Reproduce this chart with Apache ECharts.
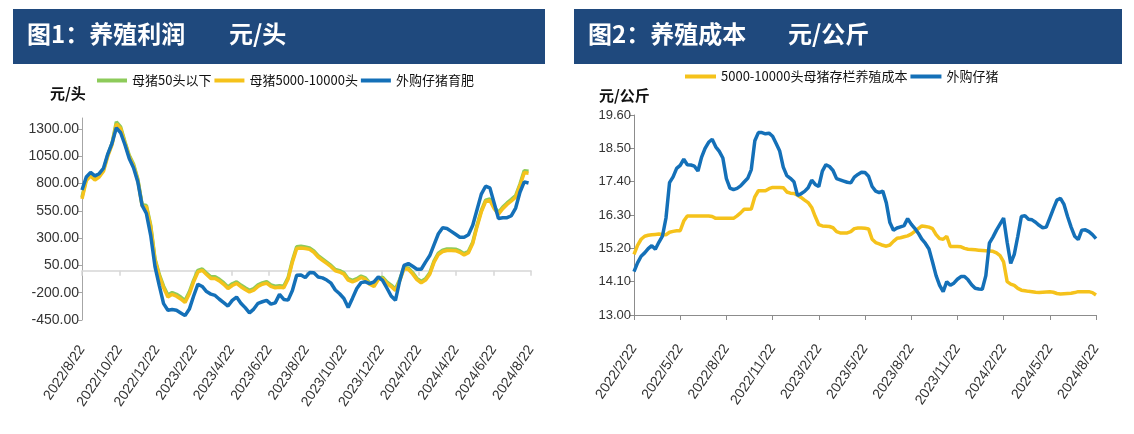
<!DOCTYPE html>
<html><head><meta charset="utf-8">
<script src="https://cdn.jsdelivr.net/npm/echarts@6/dist/echarts.min.js"></script>
<style>html,body{margin:0;padding:0;background:#fff}#c{width:1134px;height:434px}</style>
</head><body><div id="c"></div>
<script>
// ---------- data ----------
// Chart 1: weekly profit (元/头), first week 2022/8/22
const leftTickLabels = ['2022/8/22','2022/10/22','2022/12/22','2023/2/22','2023/4/22','2023/6/22','2023/8/22','2023/10/22','2023/12/22','2024/2/22','2024/4/22','2024/6/22','2024/8/22'];
const leftSeriesNames = ['母猪50头以下','母猪5000-10000头','外购仔猪育肥'];
const profitSmall = [675,840,885,845,872,925,1062,1170,1365,1318,
 1182,1058,978,842,607,598,418,112,-32,-140,
 -222,-198,-215,-240,-272,-192,-85,5,18,-20,
 -55,-55,-78,-108,-147,-118,-100,-130,-155,-178,
 -162,-128,-110,-98,-128,-140,-136,-140,-62,95,
 220,225,218,210,183,140,110,80,50,12,
 2,-18,-72,-88,-72,-48,-64,-110,-130,-68,
 -58,-102,-130,-166,-78,32,27,-16,-68,-97,
 -72,-18,92,162,190,200,200,198,183,158,
 180,263,418,553,648,658,583,535,585,622,
 655,690,795,918,912];
const profitLarge = [660,827,870,832,860,912,1050,1157,1345,1305,
 1170,1047,965,830,595,586,405,100,-45,-155,
 -240,-215,-232,-257,-290,-210,-100,-10,5,-33,
 -69,-69,-92,-123,-162,-134,-115,-145,-170,-193,
 -177,-142,-123,-112,-142,-155,-150,-154,-75,80,
 204,210,204,197,170,127,97,68,38,0,
 -10,-30,-85,-100,-85,-60,-77,-123,-143,-80,
 -70,-115,-143,-180,-90,20,15,-28,-80,-110,
 -85,-30,80,150,177,187,187,185,170,145,
 167,250,405,540,635,645,570,520,570,608,
 640,675,780,900,895];
const profitPiglet = [740,860,902,870,890,940,1070,1170,1310,1265,
 1155,1030,945,815,600,525,325,40,-135,-300,
 -360,-353,-360,-385,-410,-350,-230,-122,-143,-190,
 -213,-225,-260,-290,-322,-270,-240,-296,-337,-385,
 -350,-297,-283,-270,-305,-293,-215,-262,-268,-180,
 -40,-37,-62,-15,-18,-56,-64,-84,-113,-175,
 -210,-253,-335,-250,-161,-108,-100,-117,-100,-55,
 -87,-157,-230,-270,-90,50,67,42,15,15,
 80,140,240,340,394,388,362,335,308,308,
 330,417,560,703,775,760,620,480,487,487,
 505,575,720,815,805];

// Chart 2: weekly cost (元/公斤), first week 2022/2/22
const rightTickLabels = ['2022/2/22','2022/5/22','2022/8/22','2022/11/22','2023/2/22','2023/5/22','2023/8/22','2023/11/22','2024/2/22','2024/5/22','2024/8/22'];
const rightSeriesNames = ['5000-10000头母猪存栏养殖成本','外购仔猪'];
const costSow = [15.00,15.30,15.50,15.60,15.63,15.65,15.66,15.67,15.66,15.65,
 15.73,15.76,15.78,15.78,16.10,16.27,16.27,16.27,16.27,16.27,
 16.27,16.27,16.25,16.19,16.19,16.19,16.19,16.19,16.19,16.27,
 16.37,16.49,16.49,16.50,16.90,17.10,17.10,17.10,17.17,17.21,
 17.21,17.21,17.20,17.06,17.02,17.01,16.95,16.88,16.79,16.71,
 16.55,16.25,15.98,15.94,15.93,15.92,15.88,15.75,15.71,15.71,
 15.71,15.75,15.85,15.87,15.87,15.86,15.84,15.50,15.39,15.35,
 15.30,15.27,15.31,15.43,15.53,15.55,15.58,15.61,15.67,15.76,
 15.85,15.94,15.92,15.90,15.85,15.65,15.52,15.50,15.60,15.26,
 15.26,15.26,15.25,15.20,15.17,15.16,15.15,15.14,15.13,15.12,
 15.11,15.10,15.05,14.96,14.75,14.10,14.02,13.98,13.88,13.82,
 13.80,13.78,13.77,13.75,13.74,13.75,13.76,13.77,13.75,13.71,
 13.69,13.70,13.71,13.72,13.74,13.77,13.77,13.77,13.77,13.74,
 13.66];
const costPiglet = [14.43,14.72,14.94,15.05,15.19,15.29,15.17,15.40,15.60,16.20,
 17.37,17.56,17.84,17.94,18.14,17.96,17.95,17.91,17.75,18.20,
 18.50,18.70,18.80,18.55,18.40,18.18,17.50,17.19,17.14,17.18,
 17.26,17.39,17.51,17.80,18.75,19.02,19.02,18.98,19.00,18.90,
 18.66,18.41,17.88,17.60,17.51,17.40,16.95,17.00,17.08,17.20,
 17.45,17.31,17.24,17.75,17.96,17.90,17.77,17.50,17.46,17.42,
 17.38,17.36,17.55,17.64,17.71,17.70,17.58,17.24,17.09,17.04,
 17.09,16.70,16.05,15.80,15.87,15.91,15.95,16.18,16.00,15.86,
 15.70,15.50,15.36,15.18,14.75,14.30,13.98,13.77,14.10,13.98,
 14.05,14.18,14.27,14.27,14.16,14.00,13.88,13.86,13.85,14.30,
 15.37,15.57,15.80,16.00,16.20,15.40,14.70,15.00,15.60,16.25,
 16.28,16.16,16.14,16.06,15.96,15.88,15.90,16.20,16.50,16.79,
 16.85,16.65,16.25,15.90,15.60,15.49,15.80,15.81,15.75,15.65,
 15.52];

// ---------- chart ----------
const weekly = arr => arr.map((v, i) => [i * 7, v]);
const GREEN = '#8DCB5A', YELLOW = '#F5C21B', BLUE = '#1470B8';
const LEFT_STEP = 61, LEFT_MAX = 61 * 12;   // days, 2-month ticks
const RIGHT_STEP = 91, RIGHT_MAX = 91 * 10; // days, 3-month ticks
const numFont = 'Liberation Sans, Arial, sans-serif';
const cjkFont = 'Noto Sans CJK SC, sans-serif';

const chart = echarts.init(document.getElementById('c'), null, {renderer: 'canvas'});
const lineSeries = (name, data, color, xi, yi) => ({
  name, type: 'line', data: weekly(data), xAxisIndex: xi, yAxisIndex: yi,
  showSymbol: false, symbol: 'none', smooth: false,
  lineStyle: {color, width: 3.5}, itemStyle: {color}, emphasis: {disabled: true}
});

chart.setOption({
  animation: false,
  backgroundColor: '#fff',
  graphic: [
    {type: 'rect', shape: {x: 13, y: 9, width: 532, height: 55}, style: {fill: '#1F497D'}},
    {type: 'text', x: 27, y: 34, style: {text: '图1：养殖利润', fill: '#fff', font: 'bold 24px ' + cjkFont, verticalAlign: 'middle'}},
    {type: 'text', x: 229, y: 34, style: {text: '元/头', fill: '#fff', font: 'bold 24px ' + cjkFont, verticalAlign: 'middle'}},
    {type: 'rect', shape: {x: 574, y: 9, width: 548, height: 55}, style: {fill: '#1F497D'}},
    {type: 'text', x: 588, y: 34, style: {text: '图2：养殖成本', fill: '#fff', font: 'bold 24px ' + cjkFont, verticalAlign: 'middle'}},
    {type: 'text', x: 788, y: 34, style: {text: '元/公斤', fill: '#fff', font: 'bold 24px ' + cjkFont, verticalAlign: 'middle'}},
    {type: 'text', x: 50, y: 93, style: {text: '元/头', fill: '#111', font: 'bold 15px ' + cjkFont, verticalAlign: 'middle'}},
    {type: 'text', x: 599, y: 95, style: {text: '元/公斤', fill: '#111', font: 'bold 15px ' + cjkFont, verticalAlign: 'middle'}}
  ],
  legend: [
    {data: leftSeriesNames, left: 97, top: 74, padding: 0, itemGap: 3, itemWidth: 30, itemHeight: 4, icon: 'rect',
     textStyle: {fontSize: 13, fontFamily: cjkFont, color: '#111'}},
    {data: rightSeriesNames, left: 685, top: 70, padding: 0, itemGap: 3, itemWidth: 31, itemHeight: 4, icon: 'rect',
     textStyle: {fontSize: 13, fontFamily: cjkFont, color: '#111'}}
  ],
  grid: [
    {left: 82, right: 1134 - 531, top: 118, bottom: 434 - 320, containLabel: false},
    {left: 634, right: 1134 - 1096, top: 115, bottom: 434 - 315, containLabel: false}
  ],
  xAxis: [
    {gridIndex: 0, type: 'value', min: 0, max: LEFT_MAX, interval: LEFT_STEP,
     axisLine: {show: true, onZero: true, lineStyle: {color: '#D6D6D6', width: 1.5}},
     axisTick: {show: true, length: 5, lineStyle: {color: '#D6D6D6', width: 1.5}},
     axisLabel: {show: false}, splitLine: {show: false}},
    {gridIndex: 0, type: 'value', min: 0, max: LEFT_MAX, interval: LEFT_STEP, position: 'bottom',
     axisLine: {show: false, onZero: false}, axisTick: {show: false}, splitLine: {show: false},
     axisLabel: {rotate: 56, margin: 27, fontSize: 14, fontFamily: numFont, color: '#333',
       formatter: v => leftTickLabels[Math.round(v / LEFT_STEP)] || ''}},
    {gridIndex: 1, type: 'value', min: 0, max: RIGHT_MAX, interval: RIGHT_STEP,
     axisLine: {show: true, onZero: false, lineStyle: {color: '#8C8C8C', width: 1}},
     axisTick: {show: true, length: 5, lineStyle: {color: '#8C8C8C'}},
     splitLine: {show: false},
     axisLabel: {rotate: 56, margin: 31, fontSize: 14, fontFamily: numFont, color: '#333',
       formatter: v => rightTickLabels[Math.round(v / RIGHT_STEP)] || ''}}
  ],
  yAxis: [
    {gridIndex: 0, type: 'value', min: -450, max: 1400, interval: 250,
     axisLine: {show: true, lineStyle: {color: '#A6A6A6'}},
     axisTick: {show: true, length: 4, lineStyle: {color: '#A6A6A6'}},
     splitLine: {show: false},
     axisLabel: {showMaxLabel: false, margin: 3, fontSize: 14, fontFamily: numFont, color: '#333',
       formatter: v => v.toFixed(2)}},
    {gridIndex: 1, type: 'value', min: 13, max: 19.6, interval: 1.1,
     axisLine: {show: true, lineStyle: {color: '#8C8C8C'}},
     axisTick: {show: true, length: 4, lineStyle: {color: '#8C8C8C'}},
     splitLine: {show: false},
     axisLabel: {margin: 3, fontSize: 13, fontFamily: numFont, color: '#333',
       formatter: v => v.toFixed(2)}}
  ],
  series: [
    lineSeries(leftSeriesNames[0], profitSmall, GREEN, 0, 0),
    lineSeries(leftSeriesNames[1], profitLarge, YELLOW, 0, 0),
    lineSeries(leftSeriesNames[2], profitPiglet, BLUE, 0, 0),
    lineSeries(rightSeriesNames[0], costSow, YELLOW, 2, 1),
    lineSeries(rightSeriesNames[1], costPiglet, BLUE, 2, 1)
  ]
});
</script>
</body></html>
